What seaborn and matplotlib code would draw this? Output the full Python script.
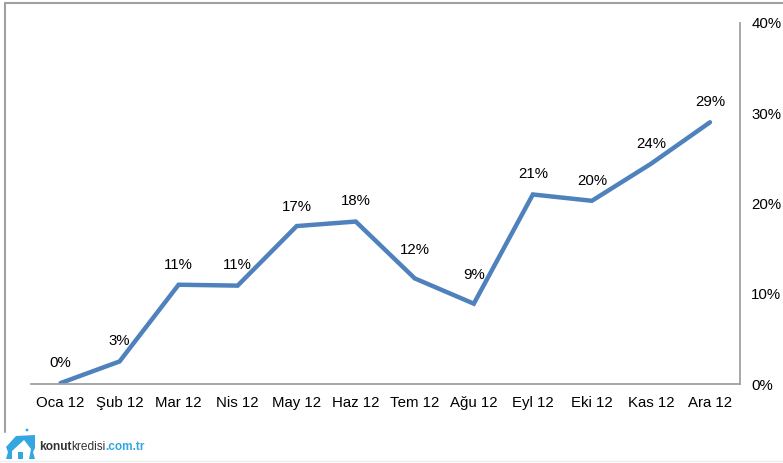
import matplotlib
matplotlib.use("Agg")
import matplotlib.pyplot as plt
from matplotlib.lines import Line2D
from matplotlib.patches import Polygon, Circle
import pandas as pd
import seaborn as sns

months = ["Oca 12", "Şub 12", "Mar 12", "Nis 12", "May 12", "Haz 12",
          "Tem 12", "Ağu 12", "Eyl 12", "Eki 12", "Kas 12", "Ara 12"]
values = [0.1, 2.5, 11.0, 10.9, 17.5, 18.0, 11.7, 8.9, 21.0, 20.3, 24.4, 29.0]
labels = ["0%", "3%", "11%", "11%", "17%", "18%", "12%", "9%", "21%", "20%", "24%", "29%"]
label_offsets = [9.5, 9.5, 9.5, 9.5, 9, 9.5, 15.5, 15.5, 9.5, 9.5, 9.5, 9.5]
y_ticks = [0, 10, 20, 30, 40]

W, H = 783, 463
LINE = "#4F81BD"
GRAY = "#A0A0A0"
TEXT = "#000000"
FS = 10.8

sns.set_theme(style="white")
plt.rcParams["font.family"] = ["Liberation Sans", "DejaVu Sans"]

df = pd.DataFrame({"month": months, "value": values})

fig = plt.figure(figsize=(W / 100, H / 100), dpi=100)
ax = fig.add_axes([31 / W, 1 - 384 / H, (739.5 - 31) / W, (384 - 23) / H])

sns.lineplot(data=df, x="month", y="value", ax=ax, color=LINE, linewidth=3.2,
             sort=False, solid_capstyle="round", solid_joinstyle="miter")

ax.set_xlim(-0.5, 11.5)
ax.set_ylim(0, 40)
ax.set_xlabel("")
ax.set_ylabel("")
ax.yaxis.tick_right()
ax.set_yticks(y_ticks)
ax.set_yticklabels([f"{t}%" for t in y_ticks])
ax.tick_params(axis="y", length=0, pad=8.5, labelsize=FS, labelcolor=TEXT)
ax.tick_params(axis="x", length=0, pad=8.5, labelsize=FS, labelcolor=TEXT)

for side in ["top", "left"]:
    ax.spines[side].set_visible(False)
for side in ["bottom", "right"]:
    ax.spines[side].set_color(GRAY)
    ax.spines[side].set_linewidth(1.3)

# data labels above the points, Tem and Ağu sit higher in the original
for i, (v, lab, off) in enumerate(zip(values, labels, label_offsets)):
    ax.annotate(lab, (i, v), xytext=(0, off), textcoords="offset points",
                ha="center", va="bottom", fontsize=FS, color=TEXT)

# outer frame of the pasted picture
fig.add_artist(Line2D([5 / W, 5 / W], [1 - 432 / H, 1 - 3 / H], color=GRAY, lw=1.5))
fig.add_artist(Line2D([5 / W, 1], [1 - 3 / H, 1 - 3 / H], color=GRAY, lw=1.5))
fig.add_artist(Line2D([0, 1], [1 - 461 / H, 1 - 461 / H], color="#EEEEEE", lw=1))

# logo
logo = "#35A7E0"
ax_logo = fig.add_axes([0, 0, 1, 1], facecolor="none")
ax_logo.set_xlim(0, W)
ax_logo.set_ylim(H, 0)
ax_logo.axis("off")
ax_logo.add_patch(Polygon([(6, 447), (16, 436), (35, 435), (35, 448), (33, 452), (35, 459),
                           (6, 459), (8, 452)], closed=True, color=logo, lw=0))
ax_logo.add_patch(Polygon([(12, 459), (12, 451), (24, 440), (31, 449), (29, 459), (23, 459),
                           (23, 452), (18, 452), (18, 459)], closed=True, color="white", lw=0))
ax_logo.add_patch(Circle((27, 430), 1.4, color=logo, lw=0))
ax_logo.add_patch(Circle((25, 434), 1.2, color="white", lw=0))
t1 = ax_logo.text(39, 446.5, "konut", fontsize=8.6, fontweight="bold", color="#333333",
                  ha="left", va="center")
fig.canvas.draw()
x_next = ax_logo.transData.inverted().transform(t1.get_window_extent().get_points())[1][0]
t2 = ax_logo.text(x_next, 446.5, "kredisi", fontsize=8.6, color="#333333", ha="left", va="center")
fig.canvas.draw()
x_next = ax_logo.transData.inverted().transform(t2.get_window_extent().get_points())[1][0]
ax_logo.text(x_next, 446.5, ".com.tr", fontsize=8.6, fontweight="bold", color=logo,
             ha="left", va="center")

fig.savefig("out.png", dpi=100, facecolor="white")
